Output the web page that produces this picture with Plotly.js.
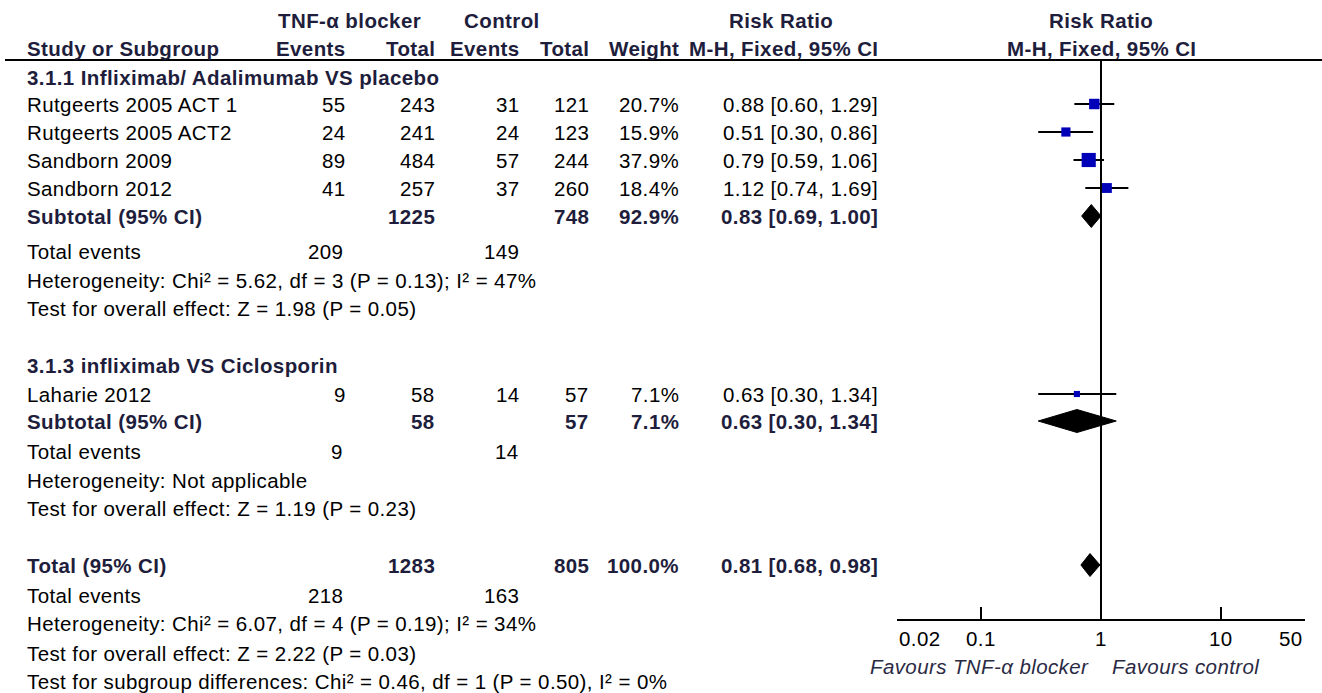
<!DOCTYPE html>
<html>
<head>
<meta charset="utf-8">
<script src="https://cdn.plot.ly/plotly-3.0.1.min.js"></script>
<style>
html,body{margin:0;padding:0;background:#fff;}
.annotation-text{letter-spacing:0.4px;}
</style>
</head>
<body>
<div id="chart" style="width:1322px;height:693px;"></div>
<script>
// ---------- data ----------
const studies      = ["Rutgeerts 2005 ACT 1", "Rutgeerts 2005 ACT2", "Sandborn 2009", "Sandborn 2012", "Laharie 2012"];
const studyGroup   = [0, 0, 0, 0, 1];
const tnfEvents    = [55, 24, 89, 41, 9];
const tnfTotal     = [243, 241, 484, 257, 58];
const ctlEvents    = [31, 24, 57, 37, 14];
const ctlTotal     = [121, 123, 244, 260, 57];
const weights      = [20.7, 15.9, 37.9, 18.4, 7.1];
const rr           = [0.88, 0.51, 0.79, 1.12, 0.63];
const rrLo         = [0.60, 0.30, 0.59, 0.74, 0.30];
const rrHi         = [1.29, 0.86, 1.06, 1.69, 1.34];

const groupNames     = ["3.1.1 Infliximab/ Adalimumab VS placebo", "3.1.3 infliximab VS Ciclosporin"];
const subTnfTotal    = [1225, 58];
const subCtlTotal    = [748, 57];
const subWeight      = [92.9, 7.1];
const subRR          = [0.83, 0.63];
const subLo          = [0.69, 0.30];
const subHi          = [1.00, 1.34];
const subTnfEvents   = [209, 9];
const subCtlEvents   = [149, 14];
const subHet         = ["Heterogeneity: Chi² = 5.62, df = 3 (P = 0.13); I² = 47%", "Heterogeneity: Not applicable"];
const subTest        = ["Test for overall effect: Z = 1.98 (P = 0.05)", "Test for overall effect: Z = 1.19 (P = 0.23)"];

const totTnfTotal  = 1283, totCtlTotal = 805, totWeight = 100.0;
const totRR = 0.81, totLo = 0.68, totHi = 0.98;
const totTnfEvents = 218, totCtlEvents = 163;
const totHet   = "Heterogeneity: Chi² = 6.07, df = 4 (P = 0.19); I² = 34%";
const totTest  = "Test for overall effect: Z = 2.22 (P = 0.03)";
const subDiff  = "Test for subgroup differences: Chi² = 0.46, df = 1 (P = 0.50), I² = 0%";

const axisTicks  = [0.02, 0.1, 1, 10, 50];
const axisLabels = ["0.02", "0.1", "1", "10", "50"];
const favLeft  = "Favours TNF-α blocker";
const favRight = "Favours control";

// ---------- layout helpers (pixel rows) ----------
const W = 1322, H = 693;
const FONT = "Liberation Sans, Arial, sans-serif";
const FS = 20.5;
const BOLDC = "#1e1e3c";
const col = {name: 25, ev1: 348, tot1: 437, ev2: 522, tot2: 591, wt: 681, rr: 880};
const rowsG = [
  {title: 77, studies: [104, 132, 160, 188], sub: 216, ev: 251, het: 280, test: 308},
  {title: 365, studies: [394], sub: 421, ev: 451, het: 480, test: 508}
];
const rowTot = {tot: 565, ev: 595, het: 623, test: 653, diff: 681};
const headerLine = 60, axisY = 620, tickLabelY = 638, favY = 666;

const ann = [];
function txt(s, x, y, anchor, bold, opts) {
  opts = opts || {};
  ann.push({
    text: bold ? "<b>" + s + "</b>" : s,
    xref: "paper", yref: "y", x: x / W, y: y,
    xanchor: anchor, yanchor: "middle", showarrow: false,
    font: {family: FONT, size: opts.size || FS, color: opts.color || (bold ? BOLDC : "#000")},
  });
}
const fmt2 = v => v.toFixed(2);
const ciText = (e, l, h) => fmt2(e) + " [" + fmt2(l) + ", " + fmt2(h) + "]";

// headers
txt("TNF-α blocker", 350, 20, "center", true);
txt("Control", 502, 20, "center", true);
txt("Risk Ratio", 781, 20, "center", true);
txt("Risk Ratio", 1101, 20, "center", true);
txt("Study or Subgroup", col.name, 48, "left", true);
txt("Events", col.ev1, 48, "right", true);
txt("Total", col.tot1, 48, "right", true);
txt("Events", col.ev2, 48, "right", true);
txt("Total", col.tot2, 48, "right", true);
txt("Weight", col.wt, 48, "right", true);
txt("M-H, Fixed, 95% CI", col.rr, 48, "right", true);
txt("M-H, Fixed, 95% CI", 1101, 48, "center", true);

// study rows
const studyY = [];
const counters = [0, 0];
studies.forEach((s, i) => {
  const g = studyGroup[i];
  const y = rowsG[g].studies[counters[g]++];
  studyY.push(y);
  txt(s, col.name, y, "left", false);
  txt(String(tnfEvents[i]), col.ev1, y, "right", false);
  txt(String(tnfTotal[i]), col.tot1, y, "right", false);
  txt(String(ctlEvents[i]), col.ev2, y, "right", false);
  txt(String(ctlTotal[i]), col.tot2, y, "right", false);
  txt(weights[i].toFixed(1) + "%", col.wt, y, "right", false);
  txt(ciText(rr[i], rrLo[i], rrHi[i]), col.rr, y, "right", false);
});

// subgroup rows
groupNames.forEach((gname, g) => {
  const r = rowsG[g];
  txt(gname, col.name, r.title, "left", true);
  txt("Subtotal (95% CI)", col.name, r.sub, "left", true);
  txt(String(subTnfTotal[g]), col.tot1, r.sub, "right", true);
  txt(String(subCtlTotal[g]), col.tot2, r.sub, "right", true);
  txt(subWeight[g].toFixed(1) + "%", col.wt, r.sub, "right", true);
  txt(ciText(subRR[g], subLo[g], subHi[g]), col.rr, r.sub, "right", true);
  txt("Total events", col.name, r.ev, "left", false);
  txt(String(subTnfEvents[g]), col.ev1 - 3, r.ev, "right", false);
  txt(String(subCtlEvents[g]), col.ev2 - 1, r.ev, "right", false);
  txt(subHet[g], col.name, r.het, "left", false);
  txt(subTest[g], col.name, r.test, "left", false);
});

// overall
txt("Total (95% CI)", col.name, rowTot.tot, "left", true);
txt(String(totTnfTotal), col.tot1, rowTot.tot, "right", true);
txt(String(totCtlTotal), col.tot2, rowTot.tot, "right", true);
txt(totWeight.toFixed(1) + "%", col.wt, rowTot.tot, "right", true);
txt(ciText(totRR, totLo, totHi), col.rr, rowTot.tot, "right", true);
txt("Total events", col.name, rowTot.ev, "left", false);
txt(String(totTnfEvents), col.ev1 - 3, rowTot.ev, "right", false);
txt(String(totCtlEvents), col.ev2 - 1, rowTot.ev, "right", false);
txt(totHet, col.name, rowTot.het, "left", false);
txt(totTest, col.name, rowTot.test, "left", false);
txt(subDiff, col.name, rowTot.diff, "left", false);

// axis tick labels (end labels kept inside the axis span, as in the original)
axisTicks.forEach((v, i) => {
  const anchor = i === 0 ? "left" : (i === axisTicks.length - 1 ? "right" : "center");
  ann.push({text: axisLabels[i], xref: "x", yref: "y", x: Math.log10(v), y: tickLabelY,
    xanchor: anchor, yanchor: "middle", showarrow: false, font: {family: FONT, size: FS, color: "#000"}});
});

// favours labels
const FAVC = "#2a2a44";
ann.push({text: "<i>" + favLeft + "</i>", xref: "paper", yref: "y", x: 1091 / W, y: favY, xanchor: "right", yanchor: "middle", showarrow: false, font: {family: FONT, size: FS, color: FAVC}});
ann.push({text: "<i>" + favRight + "</i>", xref: "paper", yref: "y", x: 1110 / W, y: favY, xanchor: "left", yanchor: "middle", showarrow: false, font: {family: FONT, size: FS, color: FAVC}});

// ---------- traces ----------
const traces = [];
// line of no effect
traces.push({x: [1, 1], y: [headerLine, axisY], mode: "lines", line: {color: "#000", width: 2}, hoverinfo: "skip", showlegend: false});
// CI lines
const ciX = [], ciY = [];
studies.forEach((s, i) => { ciX.push(rrLo[i], rrHi[i], null); ciY.push(studyY[i], studyY[i], null); });
traces.push({x: ciX, y: ciY, mode: "lines", line: {color: "#000", width: 2}, connectgaps: false, hoverinfo: "skip", showlegend: false});
// squares
traces.push({x: rr, y: studyY, mode: "markers", opacity: 1, marker: {symbol: "square", color: "#0000b8", opacity: 1, size: weights.map(w => 2.3 * Math.sqrt(w)), line: {width: 0}}, showlegend: false});
// diamonds
function diamond(e, l, h, y) {
  const d = 11.5;
  traces.push({x: [l, e, h, e, l], y: [y, y - d, y, y + d, y], mode: "lines", fill: "toself", fillcolor: "#000", line: {color: "#000", width: 1}, hoverinfo: "skip", showlegend: false});
}
rowsG.forEach((r, g) => diamond(subRR[g], subLo[g], subHi[g], r.sub));
diamond(totRR, totLo, totHi, rowTot.tot);

const layout = {
  width: W, height: H,
  margin: {l: 0, r: 0, t: 0, b: 0},
  paper_bgcolor: "#fff", plot_bgcolor: "#fff",
  showlegend: false,
  xaxis: {
    type: "log", range: [Math.log10(0.02), Math.log10(50)],
    domain: [897 / W, 1305 / W], anchor: "free", position: 1 - axisY / H,
    showline: true, linecolor: "#000", linewidth: 2,
    ticks: "inside", ticklen: 12, tickwidth: 2, tickcolor: "#000",
    tickvals: axisTicks, showticklabels: false,
    showgrid: false, zeroline: false, fixedrange: true
  },
  yaxis: {range: [H, 0], domain: [0, 1], visible: false, showgrid: false, zeroline: false, fixedrange: true},
  shapes: [{type: "line", xref: "paper", yref: "y", x0: 5 / W, x1: 1, y0: headerLine, y1: headerLine, line: {color: "#000", width: 2}}],
  annotations: ann
};
Plotly.newPlot("chart", traces, layout, {staticPlot: true, displayModeBar: false});
</script>
</body>
</html>
